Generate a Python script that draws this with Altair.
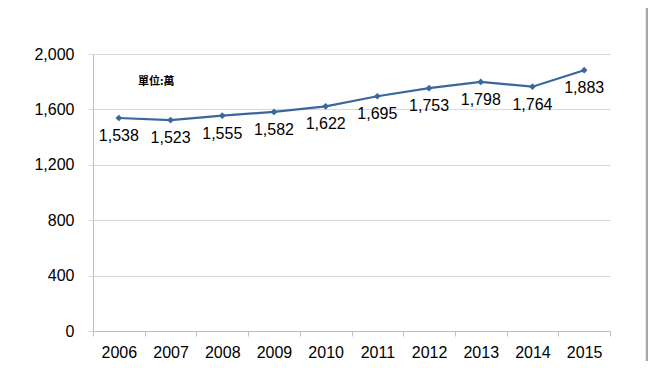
import altair as alt
import pandas as pd

years = ["2006", "2007", "2008", "2009", "2010", "2011", "2012", "2013", "2014", "2015"]
values = [1538, 1523, 1555, 1582, 1622, 1695, 1753, 1798, 1764, 1883]
y_ticks = [0, 400, 800, 1200, 1600, 2000]
unit_label = "單位:萬"

df = pd.DataFrame({"year": years, "value": values})

FONT = "Liberation Sans"
LINE = "#3A679C"
GRID = "#D9D9D9"
AX = "#BFBFBF"

x_enc = alt.X(
    "year:N",
    sort=years,
    title=None,
    scale=alt.Scale(paddingInner=0, paddingOuter=0),
    axis=alt.Axis(
        labelAngle=0,
        labelFontSize=16,
        labelFont=FONT,
        labelColor="black",
        labelPadding=8,
        tickBand="extent",
        tickSize=5,
        tickColor=AX,
        domainColor=AX,
        grid=False,
    ),
)
y_enc = alt.Y(
    "value:Q",
    title=None,
    scale=alt.Scale(domain=[0, 2000], nice=False),
    axis=alt.Axis(
        values=y_ticks,
        format=",d",
        labelFontSize=16,
        labelFont=FONT,
        labelColor="black",
        labelPadding=14,
        tickSize=5,
        tickColor=GRID,
        domainColor=AX,
        gridColor=GRID,
        grid=True,
    ),
)

base = alt.Chart(df)
line = base.mark_line(color=LINE, strokeWidth=2.2).encode(x=x_enc, y=y_enc)
pts = base.mark_point(shape="diamond", filled=True, size=45, color=LINE, opacity=1).encode(x=x_enc, y=y_enc)
labels = base.mark_text(dy=18, fontSize=16, font=FONT, color="black").encode(
    x=x_enc, y=y_enc, text=alt.Text("value:Q", format=",d")
)
unit = alt.Chart(pd.DataFrame({"t": [unit_label]})).mark_text(
    align="left", baseline="middle", fontSize=11, fontWeight="bold", font="Noto Sans CJK TC", color="black"
).encode(x=alt.value(45), y=alt.value(28), text="t:N")
border = alt.Chart(pd.DataFrame({"a": [0]})).mark_rule(color="#A6A6A6", strokeWidth=2.5).encode(
    x=alt.value(554), y=alt.value(-46), y2=alt.value(320)
)

chart = (
    alt.layer(line, pts, labels, unit, border)
    .properties(
        width=517,
        height=277,
        autosize=alt.AutoSizeParams(type="none"),
        padding={"left": 85, "top": 46, "right": 38, "bottom": 30},
    )
    .configure_view(stroke=None)
    .configure_axis(domainWidth=1, tickWidth=1)
)

chart.save("out.html", embed_options={"renderer": "svg", "actions": False})
